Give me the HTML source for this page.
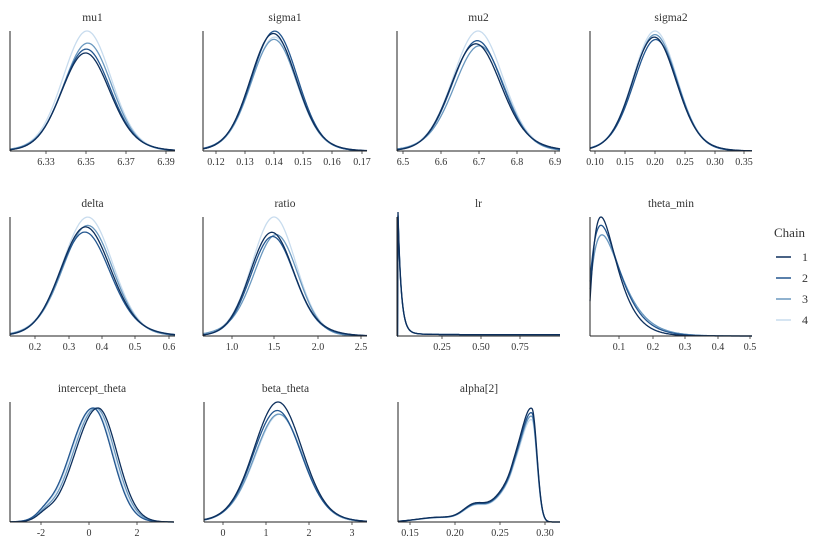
<!DOCTYPE html>
<html><head><meta charset="utf-8"><style>
html,body{margin:0;padding:0;background:#fff}
svg{display:block}
text{font-family:"Liberation Serif",serif;fill:#333}
</style></head><body>
<svg id="s" width="824" height="547" xmlns="http://www.w3.org/2000/svg"></svg>
<script>
var S=document.getElementById('s'),out='';
var cols=['#0d2f5c','#23568f','#6a98bf','#c8dcee'];
function g(x,m,s){return Math.exp(-0.5*(x-m)*(x-m)/(s*s));}
function ga(x,m,sl,sr){return x<m?g(x,m,sl):g(x,m,sr);}
function panel(p){
 out+='<text x="'+((p.x0+p.x1)/2)+'" y="'+(p.top-10)+'" font-size="11.5" text-anchor="middle" fill="#222">'+p.title+'</text>';
 var h=p.bot-p.top;
 for(var c=3;c>=0;c--){
  var d='';
  for(var x=p.x0;x<=p.x1;x+=0.5){
   var v=p.f(x,c);var y=p.bot-v*h;
   d+=(x==p.x0?'M':'L')+x.toFixed(1)+' '+y.toFixed(1);
  }
  out+='<path d="'+d+'" fill="none" stroke="'+cols[c]+'" stroke-width="1.3"/>';
 }
 out+='<line x1="'+p.x0+'" y1="'+p.top+'" x2="'+p.x0+'" y2="'+p.bot+'" stroke="#222" stroke-width="1"/>';
 out+='<line x1="'+p.x0+'" y1="'+p.bot+'" x2="'+p.x1+'" y2="'+p.bot+'" stroke="#222" stroke-width="1"/>';
 p.ticks.forEach(function(t){
  out+='<line x1="'+t[0]+'" y1="'+p.bot+'" x2="'+t[0]+'" y2="'+(p.bot+3)+'" stroke="#333" stroke-width="0.8"/>';
  out+='<text x="'+t[0]+'" y="'+(p.bot+14)+'" font-size="10" text-anchor="middle" fill="#444">'+t[1]+'</text>';
 });
}
function sym(m,s,hs,jit){return function(x,c){var a=hs[c];var j=jit[c];return a*(0.85*g(x,m+j,s)+0.15*g(x,m-j*3,s*1.5));};}
var R1=[31,151],R2=[217,336],R3=[402,522];
var P=[
{x0:10,x1:175,r:R1,title:'mu1',ticks:[[46,'6.33'],[86,'6.35'],[126,'6.37'],[166,'6.39']],f:sym(87,23,[0.82,0.85,0.9,1.0],[-2,-1,1,0])},
{x0:203,x1:367,r:R1,title:'sigma1',ticks:[[216,'0.12'],[245,'0.13'],[274,'0.14'],[303,'0.15'],[332,'0.16'],[362,'0.17']],f:sym(274,22,[0.98,1.0,0.93,0.95],[-1,1,0,1])},
{x0:397,x1:560,r:R1,title:'mu2',ticks:[[403,'6.5'],[441,'6.6'],[479,'6.7'],[517,'6.8'],[555,'6.9']],f:sym(478,24,[0.9,0.92,0.88,1.0],[-3,-1,2,0])},
{x0:590,x1:752,r:R1,title:'sigma2',ticks:[[595,'0.10'],[625,'0.15'],[655,'0.20'],[685,'0.25'],[715,'0.30'],[744,'0.35']],f:sym(655,21,[0.95,0.93,0.97,1.0],[-1,1,0,0])},
{x0:10,x1:175,r:R2,title:'delta',ticks:[[35,'0.2'],[69,'0.3'],[102,'0.4'],[135,'0.5'],[169,'0.6']],f:sym(87,24,[0.92,0.88,0.93,1.0],[-2,-3,1,1])},
{x0:203,x1:367,r:R2,title:'ratio',ticks:[[232,'1.0'],[274,'1.5'],[318,'2.0'],[361,'2.5']],f:sym(274,21,[0.88,0.84,0.86,1.0],[-3,-2,3,0])},
{x0:397,x1:560,r:R2,title:'lr',ticks:[[442,'0.25'],[481,'0.50'],[520,'0.75']],f:function(x,c){var d=x-398;if(d<0)return 0;return Math.exp(-d/3.2)*(c==0?1:0.97)+0.03*Math.exp(-d/12)+0.012;}},
{x0:590,x1:752,r:R2,title:'theta_min',ticks:[[619,'0.1'],[653,'0.2'],[685,'0.3'],[718,'0.4'],[750,'0.5']],f:function(x,c){var k=[1,0.93,0.85,0.85][c],sc=[13,15,16,16][c];var d=x-590+[2,4,4,4][c];var v=Math.pow(d/sc,1.2)*Math.exp(-d/sc*1.2)/Math.exp(-1.2);return k*v;}},
{x0:10,x1:174,r:R3,title:'intercept_theta',ticks:[[41,'-2'],[89,'0'],[137,'2']],f:function(x,c){var j=[3,-2,1,-1][c];return 0.95*ga(x,95+j,23,19)+0.04*g(x,45,8);}},
{x0:204,x1:367,r:R3,title:'beta_theta',ticks:[[223,'0'],[266,'1'],[309,'2'],[352,'3']],f:sym(278,23,[1.0,0.93,0.9,0.9],[0,-1,1,2])},
{x0:398,x1:560,r:R3,title:'alpha[2]',ticks:[[410,'0.15'],[455,'0.20'],[500,'0.25'],[545,'0.30']],f:function(x,c){var k=[1,0.96,0.93,0.9][c];var v=0.92*ga(x,532,11,5)+0.3*ga(x,512,17,9)+0.12*g(x,474,11)+0.04*g(x,440,22);return k*v;}}
];
P.forEach(function(p){p.top=p.r[0];p.bot=p.r[1];panel(p);});
out+='<text x="774" y="237" font-size="13" fill="#222">Chain</text>';
for(var i=0;i<4;i++){var y=257+i*21;
 out+='<line x1="776" y1="'+y+'" x2="791" y2="'+y+'" stroke="'+cols[i]+'" stroke-width="1.5"/>';
 out+='<text x="802" y="'+(y+4)+'" font-size="12" fill="#222">'+(i+1)+'</text>';}
S.innerHTML=out;
</script>
</body></html>
